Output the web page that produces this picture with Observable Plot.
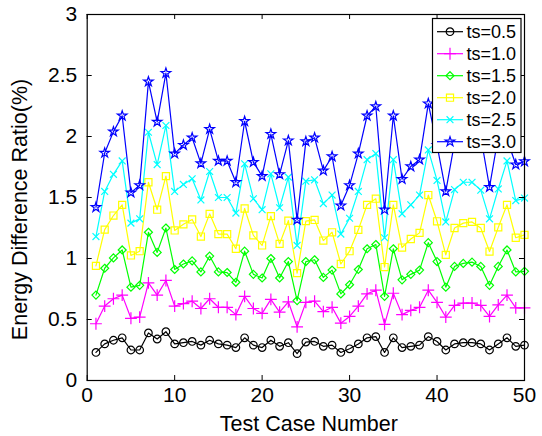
<!DOCTYPE html>
<html>
<head>
<meta charset="utf-8">
<script src="https://cdn.jsdelivr.net/npm/d3@7"></script>
<script src="https://cdn.jsdelivr.net/npm/@observablehq/plot@0.6"></script>
<style>
  html, body { margin: 0; padding: 0; background: #fff; }
  #chart svg { display: block; }
</style>
</head>
<body>
<div id="chart"></div>
<script>
// ---- data ----
const caseNumbers = d3.range(1, 51);
const ts05 = [0.23,0.30,0.33,0.35,0.25,0.25,0.39,0.34,0.40,0.30,0.31,0.32,0.29,0.33,0.30,0.29,0.27,0.35,0.29,0.27,0.33,0.28,0.31,0.22,0.315,0.32,0.28,0.29,0.23,0.26,0.30,0.35,0.36,0.23,0.35,0.27,0.28,0.29,0.36,0.32,0.25,0.30,0.31,0.31,0.30,0.25,0.30,0.35,0.28,0.29];
const ts10 = [0.465,0.61,0.67,0.70,0.51,0.52,0.80,0.70,0.82,0.61,0.63,0.65,0.59,0.67,0.60,0.60,0.54,0.69,0.59,0.55,0.665,0.56,0.645,0.44,0.64,0.65,0.565,0.60,0.47,0.525,0.61,0.71,0.74,0.46,0.715,0.54,0.575,0.60,0.74,0.64,0.52,0.615,0.635,0.635,0.615,0.525,0.62,0.70,0.595,0.595];
const ts15 = [0.70,0.92,1.005,1.07,0.765,0.78,1.215,1.05,1.25,0.91,0.955,0.98,0.89,1.02,0.89,0.885,0.805,1.06,0.87,0.84,1.0,0.84,0.975,0.655,0.975,0.99,0.845,0.905,0.71,0.785,0.91,1.08,1.115,0.69,1.08,0.825,0.87,0.905,1.13,0.975,0.765,0.935,0.96,0.97,0.935,0.78,0.935,1.07,0.89,0.895];
const ts20 = [0.94,1.237,1.352,1.44,1.025,1.06,1.625,1.40,1.675,1.23,1.28,1.32,1.18,1.366,1.20,1.20,1.08,1.41,1.19,1.107,1.347,1.12,1.31,0.88,1.306,1.316,1.147,1.215,0.955,1.06,1.235,1.44,1.49,0.93,1.44,1.09,1.16,1.21,1.52,1.305,1.03,1.25,1.29,1.30,1.25,1.057,1.255,1.44,1.17,1.194];
const ts25 = [1.18,1.55,1.69,1.80,1.29,1.325,2.035,1.77,2.09,1.55,1.607,1.653,1.48,1.713,1.50,1.50,1.372,1.776,1.49,1.40,1.694,1.416,1.667,1.107,1.634,1.645,1.45,1.52,1.20,1.33,1.55,1.81,1.86,1.17,1.81,1.366,1.44,1.52,1.89,1.64,1.30,1.565,1.625,1.625,1.56,1.325,1.57,1.80,1.475,1.495];
const ts30 = [1.42,1.865,2.04,2.17,1.54,1.60,2.45,2.12,2.52,1.86,1.93,1.99,1.78,2.06,1.80,1.80,1.625,2.125,1.79,1.675,2.02,1.69,1.967,1.317,1.96,1.99,1.72,1.836,1.434,1.60,1.86,2.17,2.246,1.40,2.17,1.65,1.754,1.81,2.27,1.93,1.55,1.95,2.05,2.0,2.0,1.585,2.0,1.98,1.77,1.795];
const seriesNames = ["ts=0.5","ts=1.0","ts=1.5","ts=2.0","ts=2.5","ts=3.0"];
const xTicks = [0,10,20,30,40,50];
const yTicks = [0,0.5,1,1.5,2,2.5,3];
const xLabel = "Test Case Number";
const yLabel = "Energy Difference Ratio(%)";

// ---- styles ----
const seriesValues = [ts05, ts10, ts15, ts20, ts25, ts30];
const colors = ["#000000","#ff00ff","#00ff00","#ffff00","#00ffff","#0000ff"];
const symbols = [d3.symbolCircle, d3.symbolPlus, d3.symbolDiamond2, d3.symbolSquare, d3.symbolTimes, d3.symbolStar];
const radii = [3.8, 3.9, 3.6, 4.0, 3.2, 3.0];

const W = 542, H = 436;
const mL = 86.7, mR = 18, mT = 14, mB = 56;
const innerW = W - mL - mR, innerH = H - mT - mB;
const font = "'Liberation Sans', Arial, Helvetica, sans-serif";

const tables = seriesValues.map((vals, k) =>
  vals.map((v, i) => ({x: caseNumbers[i], y: v, s: seriesNames[k]})));

const marks = [];
tables.forEach((rows, k) => {
  marks.push(Plot.line(rows, {x: "x", y: "y", stroke: colors[k], strokeWidth: 1.2}));
  marks.push(Plot.dot(rows, {x: "x", y: "y", symbol: () => symbols[k], r: radii[k], stroke: colors[k], fill: "none", strokeWidth: 1.2}));
});

const chart = Plot.plot({
  width: W, height: H,
  marginLeft: mL, marginRight: mR, marginTop: mT, marginBottom: mB,
  style: {fontFamily: font, background: "#fff", color: "#000"},
  x: {domain: [0, 50]},
  y: {domain: [0, 3]},
  marks: [
    ...marks,
    // inward ticks on all four sides
    Plot.tickX(xTicks, {x: d => d, insetTop: innerH - 5, stroke: "#000"}),
    Plot.tickX(xTicks, {x: d => d, insetBottom: innerH - 5, stroke: "#000"}),
    Plot.tickY(yTicks, {y: d => d, insetRight: innerW - 5, stroke: "#000"}),
    Plot.tickY(yTicks, {y: d => d, insetLeft: innerW - 5, stroke: "#000"}),
    Plot.axisX({ticks: xTicks, tickSize: 0, tickPadding: 7, fontSize: 21, label: null, tickFormat: d => String(d)}),
    Plot.axisY({ticks: yTicks, tickSize: 0, tickPadding: 10, fontSize: 21, label: null, tickFormat: d => String(d)}),
    Plot.frame({stroke: "#000", strokeWidth: 1.2}),
    Plot.text([xLabel], {text: d => d, frameAnchor: "bottom", textAnchor: "middle", dy: 44, dx: 3, fontSize: 21.5, lineAnchor: "middle"}),
    Plot.text([yLabel], {text: d => d, frameAnchor: "left", textAnchor: "middle", dx: -67, dy: 12, rotate: -90, fontSize: 21.5, lineAnchor: "middle"})
  ]
});

document.getElementById("chart").appendChild(chart);

// ---- legend (inside the axes, top right) ----
const svg = d3.select(chart.tagName.toLowerCase() === "svg" ? chart : chart.querySelector("svg"));
const lg = svg.append("g").attr("class", "legend").attr("text-anchor", "start");
const box = {x: 432.5, y: 18.5, w: 88.5, h: 134};
lg.append("rect").attr("x", box.x).attr("y", box.y).attr("width", box.w).attr("height", box.h)
  .attr("fill", "#fff").attr("stroke", "#000").attr("stroke-width", 1.2);
seriesNames.forEach((name, k) => {
  const cy = 31.7 + k * 22;
  lg.append("line").attr("x1", 437).attr("x2", 463).attr("y1", cy).attr("y2", cy)
    .attr("stroke", colors[k]).attr("stroke-width", 1.2);
  lg.append("path").attr("transform", `translate(450,${cy})`)
    .attr("d", d3.symbol(symbols[k], radii[k] * radii[k] * Math.PI)())
    .attr("fill", "none").attr("stroke", colors[k]).attr("stroke-width", 1.2);
  lg.append("text").attr("x", 466.5).attr("y", cy).attr("dy", "0.35em")
    .attr("text-anchor", "start")
    .attr("font-family", font).attr("font-size", 18).attr("fill", "#000").text(name);
});
</script>
</body>
</html>
